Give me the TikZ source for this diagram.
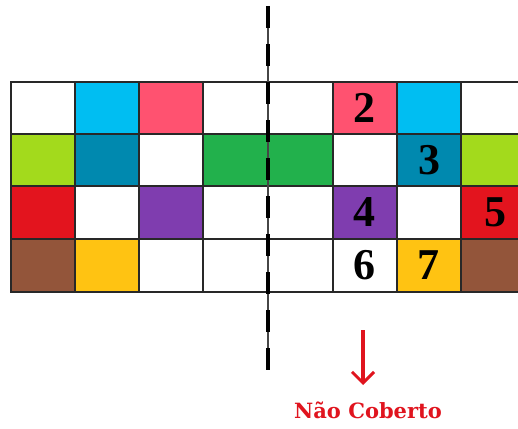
\documentclass[tikz,border=0pt]{standalone}
\usepackage{fontspec}
\setmainfont{Liberation Serif}
\newfontfamily\labelfont{DejaVu Serif}
\usetikzlibrary{arrows.meta}
\definecolor{ccyan}{RGB}{0,190,242}
\definecolor{cpink}{RGB}{255,82,112}
\definecolor{clime}{RGB}{163,218,28}
\definecolor{cteal}{RGB}{0,137,175}
\definecolor{cgreen}{RGB}{34,177,76}
\definecolor{cred}{RGB}{227,20,30}
\definecolor{cpurple}{RGB}{127,61,175}
\definecolor{cbrown}{RGB}{147,85,58}
\definecolor{cyellow}{RGB}{255,195,18}
\definecolor{cwhite}{RGB}{255,255,255}
\definecolor{gridc}{RGB}{40,40,40}
\definecolor{txtred}{RGB}{224,20,30}
\tikzset{
  cell/.style={draw=gridc, line width=1.2pt},
  num/.style={font=\fontsize{44}{44}\selectfont\bfseries, text=black, inner sep=0pt},
  cutline/.style={line width=4.5pt, dash pattern=on 22pt off 16pt, black},
  thinline/.style={line width=1.3pt, draw={rgb,255:red,70;green,70;blue,70}},
  redarrow/.style={txtred, line width=3.5pt, -{Straight Barb[length=11pt,width=22pt,line width=3pt]}},
  lab/.style={font=\labelfont\fontsize{21}{21}\selectfont\bfseries, text=txtred, inner sep=0pt}
}
\begin{document}
\begin{tikzpicture}[x=1pt,y=-1pt]
\useasboundingbox (0,0) rectangle (518,428);
\begin{scope}
\clip (0,0) rectangle (518,428);
% column boundaries and row boundaries
\def\xs{{11,75,139,203,268,333,397,461,525}}
\def\ys{{82,134,186,239,292}}
\foreach \r/\row in {0/{cwhite,ccyan,cpink,cwhite,cwhite,cpink,ccyan,cwhite},
                      1/{clime,cteal,cwhite,cgreen,cgreen,cwhite,cteal,clime},
                      2/{cred,cwhite,cpurple,cwhite,cwhite,cpurple,cwhite,cred},
                      3/{cbrown,cyellow,cwhite,cwhite,cwhite,cwhite,cyellow,cbrown}}{
  \foreach \col [count=\c from 0] in \row {
    \pgfmathsetmacro{\xa}{\xs[\c]}
    \pgfmathsetmacro{\xb}{\xs[\c+1]}
    \pgfmathsetmacro{\ya}{\ys[\r]}
    \pgfmathsetmacro{\yb}{\ys[\r+1]}
    \filldraw[cell, fill=\col] (\xa,\ya) rectangle (\xb,\yb);
  }
}
\end{scope}
% numbers
\node[num] (n2) at (364,108) {2};
\node[num] (n3) at (429,160) {3};
\node[num] (n4) at (364,212) {4};
\node[num] (n5) at (495,212) {5};
\node[num] (n6) at (364,265) {6};
\node[num] (n7) at (428,265) {7};
% dashed cut line
\coordinate (ctop) at (268,6);
\coordinate (cbot) at (268,370);
\draw[thinline] (ctop) -- (cbot);
\draw[cutline] (ctop) -- (cbot);
% arrow and label
\coordinate (atop) at (363,330);
\coordinate (abot) at (363,385);
\draw[redarrow] (atop) -- (abot);
\node[lab] (nc) at (368,410) {Não Coberto};
\end{tikzpicture}
\end{document}
